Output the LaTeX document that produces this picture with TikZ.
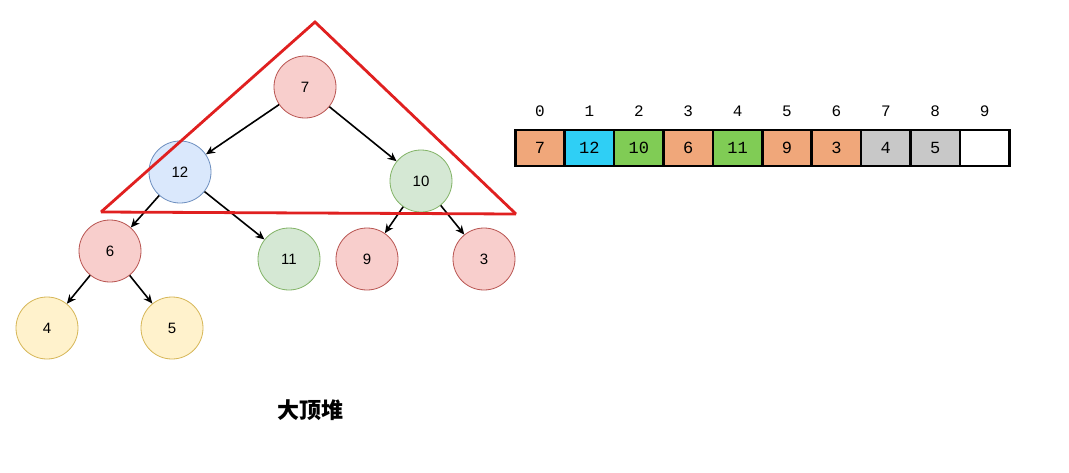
\documentclass[tikz,border=0pt]{standalone}
\usepackage{fontspec}
\setmainfont{Liberation Sans}
\newfontfamily\cjk{Noto Sans CJK SC}
\newfontfamily\monof{Liberation Mono}
\usetikzlibrary{arrows.meta}
\definecolor{rf}{HTML}{F8CECC}\definecolor{rd}{HTML}{B85450}
\definecolor{bf}{HTML}{DAE8FC}\definecolor{bd}{HTML}{6C8EBF}
\definecolor{gf}{HTML}{D5E8D4}\definecolor{gd}{HTML}{82B366}
\definecolor{yf}{HTML}{FFF2CC}\definecolor{yd}{HTML}{D6B656}
\definecolor{co}{HTML}{F0A77A}\definecolor{cc}{HTML}{2FCFF5}
\definecolor{cg}{HTML}{80CC55}\definecolor{cy}{HTML}{C8C8C8}
\definecolor{redl}{HTML}{E02020}
\begin{document}
\begin{tikzpicture}[x=1pt,y=-1pt,
  hn/.style={circle,minimum size=62pt,inner sep=0pt,font=\fontsize{15}{15}\selectfont,line width=0.8pt},
  rn/.style={hn,fill=rf,draw=rd},bn/.style={hn,fill=bf,draw=bd},
  gn/.style={hn,fill=gf,draw=gd},yn/.style={hn,fill=yf,draw=yd},
  ed/.style={-{Stealth[length=9pt,width=8pt]},line width=1.6pt},
  cell/.style={draw=black,line width=2.5pt,minimum width=49.4pt,minimum height=36pt,inner sep=0pt,font=\monof\fontsize{17}{17}\selectfont},
  idx/.style={font=\monof\fontsize{16}{16}\selectfont},
  tri/.style={draw=redl,line width=2.8pt}]
\useasboundingbox (0,0) rectangle (1069,472);
\fill[white] (0,0) rectangle (1069,472);
\node[rn] (n7) at (305,87) {7};
\node[bn] (n12) at (180,172) {12};
\node[gn] (n10) at (421,181) {10};
\node[rn] (n6) at (110,251) {6};
\node[gn] (n11) at (289,259) {11};
\node[rn] (n9) at (367,259) {9};
\node[rn] (n3) at (484,259) {3};
\node[yn] (n4) at (47,328) {4};
\node[yn] (n5) at (172,328) {5};
\draw[ed] (n7) -- (n12); \draw[ed] (n7) -- (n10);
\draw[ed] (n12) -- (n6); \draw[ed] (n12) -- (n11);
\draw[ed] (n10) -- (n9); \draw[ed] (n10) -- (n3);
\draw[ed] (n6) -- (n4); \draw[ed] (n6) -- (n5);
\coordinate (ta) at (315,22); \coordinate (tl) at (101,212); \coordinate (tr) at (516,214);
\draw[tri] (tl) -- (ta) -- (tr);
\draw[tri] (tl) -- (tr);
\foreach \v/\c [count=\i from 0] in {7/co,12/cc,10/cg,6/co,11/cg,9/co,3/co,4/cy,5/cy,/white}{
  \node[cell,fill=\c] (c\i) at ({540+\i*49.4},148) {\v};
  \node[idx] (i\i) at ({540+\i*49.4},111) {\i};
}
\node[font=\cjk\bfseries\fontsize{22}{22}\selectfont] (lab) at (310,410) {大顶堆};
\end{tikzpicture}
\end{document}
